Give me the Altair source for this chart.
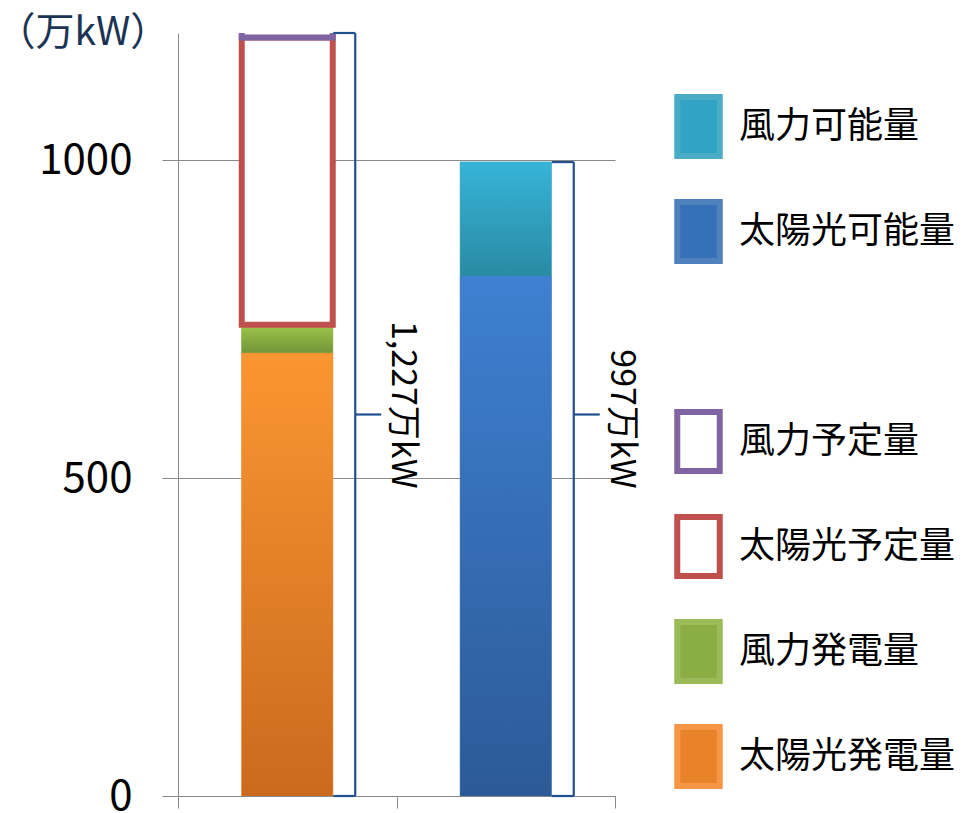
import altair as alt
import pandas as pd

# ---- data ----
categories = ["予定・実績", "可能量"]
series = ["太陽光発電量", "風力発電量", "太陽光予定量", "風力予定量", "太陽光可能量", "風力可能量"]
series_cat = ["予定・実績", "予定・実績", "予定・実績", "予定・実績", "可能量", "可能量"]
values = [697, 44, 452, 34, 818, 179]
totals = [1227, 997]
total_labels = ["1,227万kW", "997万kW"]
brace_mid = [600, 600]
legend_order = ["風力可能量", "太陽光可能量", " ", "風力予定量", "太陽光予定量", "風力発電量", "太陽光発電量"]
y_ticks = [0, 500, 1000]
Y_MAX = 1200

# ---- styling ----
FONT = "Noto Sans CJK JP"
GRAY = "#898989"
BRACE = "#22508f"
legend_fill = ["#31a3c4", "#3670b9", "transparent", "white", "white", "#8aae44", "#e8832a"]
legend_stroke = ["#4bacc6", "#4f81bd", "transparent", "#8064a2", "#c0504d", "#9bbb59", "#f79646"]
gradients = {
    "太陽光発電量": ("#fa9631", "#cb691e"),
    "風力発電量": ("#9dc64b", "#729439"),
    "太陽光可能量": ("#3e80d2", "#2c5a97"),
    "風力可能量": ("#36b4d8", "#2a8aa4"),
}
planned = ["太陽光予定量", "風力予定量"]

# ---- tables ----
pos_of = {c: i + 0.5 for i, c in enumerate(categories)}
bars = pd.DataFrame({"series": series, "cat": series_cat, "value": values})
bars["pos"] = bars["cat"].map(pos_of)
bars["y1"] = bars.groupby("cat")["value"].cumsum()
bars["y0"] = bars["y1"] - bars["value"]

braces = pd.DataFrame({"cat": categories, "total": totals, "label": total_labels, "mid": brace_mid})
braces["pos"] = braces["cat"].map(pos_of)
braces["top"] = braces["total"].clip(upper=Y_MAX)
braces["zero"] = 0

x_enc = alt.X(
    "pos:Q",
    scale=alt.Scale(domain=[0, len(categories)], padding=0, nice=False, zero=False),
    axis=alt.Axis(values=list(range(len(categories) + 1)), labels=False, ticks=True, tickSize=12,
                  tickColor=GRAY, domainColor=GRAY, grid=False, title=None),
)
y_enc = alt.Y(
    "y0:Q",
    scale=alt.Scale(domain=[0, Y_MAX], nice=False),
    axis=alt.Axis(values=y_ticks, format="d", grid=True, gridColor=GRAY, tickSize=16, tickColor=GRAY,
                  domainColor=GRAY, labelFontSize=42, labelFont=FONT, labelColor="black",
                  labelPadding=30, title="（万kW）", titleAngle=0, titleAlign="left",
                  titleBaseline="middle", titleX=-182, titleY=-1, titleFontSize=39,
                  titleFont=FONT, titleColor="#1c3454", titleFontWeight="normal"),
)

legend = alt.Legend(
    title=None, orient="none", legendX=488, legendY=61, padding=0,
    symbolType="M-0.72,-1H0.72V1H-0.72Z", symbolSize=3481, symbolStrokeWidth=6,
    labelFontSize=36, labelFont=FONT, labelColor="black", labelOffset=8, labelLimit=0,
    rowPadding=22, symbolOpacity=1,
)

base = alt.Chart(bars).mark_bar(size=91, clip=True).encode(
    x=x_enc,
    y=y_enc,
    y2="y1:Q",
    fill=alt.Fill("series:N", scale=alt.Scale(domain=legend_order, range=legend_fill), legend=legend),
    stroke=alt.Stroke("series:N", scale=alt.Scale(domain=legend_order, range=legend_stroke), legend=legend),
)

grad_layers = []
for name, (c_top, c_bot) in gradients.items():
    grad = alt.Gradient(
        gradient="linear",
        stops=[alt.GradientStop(color=c_top, offset=0), alt.GradientStop(color=c_bot, offset=1)],
        x1=0, x2=0, y1=0, y2=1,
    )
    grad_layers.append(
        alt.Chart(bars).transform_filter(alt.datum.series == name)
        .mark_bar(size=91, clip=True, fill=grad, strokeWidth=0)
        .encode(x="pos:Q", y="y0:Q", y2="y1:Q")
    )

planned_strokes = {"太陽光予定量": "#c0504d", "風力予定量": "#8064a2"}
outline_layers = []
for name in planned:
    outline_layers.append(
        alt.Chart(bars).transform_filter(alt.datum.series == name)
        .mark_bar(size=91, clip=True, fill="white", stroke=planned_strokes[name], strokeWidth=6)
        .encode(x="pos:Q", y="y0:Q", y2="y1:Q")
    )

bc = alt.Chart(braces)
brace_v = bc.mark_rule(xOffset=68, strokeWidth=2.2, color=BRACE).encode(
    x="pos:Q", y="zero:Q", y2="top:Q")
brace_t = bc.mark_rule(xOffset=46, x2Offset=68, strokeWidth=2.2, color=BRACE).encode(
    x="pos:Q", x2="pos:Q", y="top:Q")
brace_b = bc.mark_rule(xOffset=46, x2Offset=68, strokeWidth=2.2, color=BRACE).encode(
    x="pos:Q", x2="pos:Q", y="zero:Q")
brace_n = bc.mark_rule(xOffset=68, x2Offset=94, strokeWidth=2.2, color=BRACE).encode(
    x="pos:Q", x2="pos:Q", y="mid:Q")
brace_txt = bc.mark_text(angle=90, align="right", baseline="middle", dx=74, xOffset=115,
                         fontSize=34, font=FONT, color="black").encode(
    x="pos:Q", y="mid:Q", text="label:N")

chart = alt.layer(base, *grad_layers, *outline_layers, brace_v, brace_t, brace_b, brace_n, brace_txt).properties(
    width=437, height=763,
    autosize=alt.AutoSizeParams(type="none"),
    padding={"left": 178, "top": 33, "right": 354, "bottom": 17},
    background="white",
).configure_view(stroke=None)

chart.save("out.html", embed_options={"renderer": "svg", "actions": False})
